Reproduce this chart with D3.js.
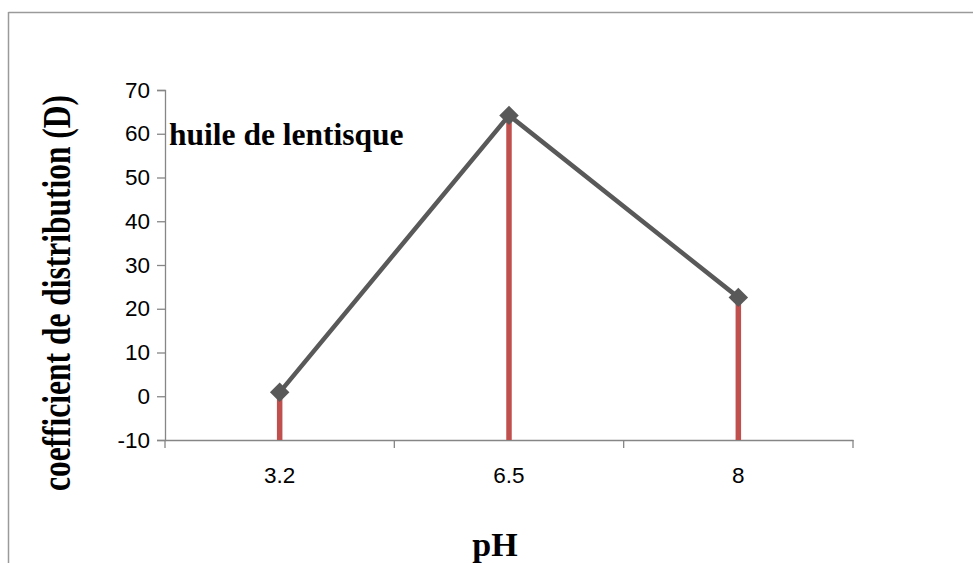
<!DOCTYPE html>
<html><head><meta charset="utf-8">
<script src="https://cdn.jsdelivr.net/npm/d3@7"></script>
<style>body{margin:0;background:#fff}svg{display:block}</style>
</head><body>
<svg id="chart" width="974" height="563"></svg>
<script>
const categories = ["3.2", "6.5", "8"];
const values = [0.9, 64.2, 22.6];
const yTicks = [-10, 0, 10, 20, 30, 40, 50, 60, 70];
const seriesLabel = "huile de lentisque";
const xTitle = "pH";
const yTitle = "coefficient de distribution (D)";

const svg = d3.select("#chart");
const W = 974, H = 563;
const m = {left: 165, right: 853, top: 90, bottom: 440};

// outer frame
svg.append("line").attr("x1", 8.5).attr("x2", 973).attr("y1", 12.5).attr("y2", 12.5)
  .attr("stroke", "#9a9a9a").attr("stroke-width", 1.5);
svg.append("line").attr("x1", 8.5).attr("x2", 8.5).attr("y1", 12).attr("y2", H)
  .attr("stroke", "#9a9a9a").attr("stroke-width", 1.5);

const x = d3.scaleBand().domain(categories).range([m.left, m.right]).paddingInner(0).paddingOuter(0);
const y = d3.scaleLinear().domain([-10, 70]).range([m.bottom, m.top]);

const axisColor = "#868686";
const tickFont = "'Liberation Sans', Arial, sans-serif";
// y axis
const yAxis = svg.append("g").attr("transform", `translate(${m.left},0)`)
  .call(d3.axisLeft(y).tickValues(yTicks).tickSize(8).tickPadding(7).tickFormat(d3.format("d")));
yAxis.select(".domain").attr("stroke", axisColor).attr("stroke-width", 1.3);
yAxis.selectAll(".tick line").attr("stroke", axisColor).attr("stroke-width", 1.3);
yAxis.selectAll(".tick text").attr("font-family", tickFont)
  .attr("font-size", 22.5).attr("fill", "#000").text(d => d < 0 ? "-" + Math.abs(d) : d);

// x axis
const xAxis = svg.append("g").attr("transform", `translate(0,${m.bottom})`)
  .call(d3.axisBottom(x).tickSize(0).tickPadding(27));
xAxis.select(".domain").attr("stroke", axisColor).attr("stroke-width", 1.3);
xAxis.selectAll(".tick text").attr("font-family", tickFont)
  .attr("font-size", 22.5).attr("fill", "#000");
// boundary ticks
const bounds = categories.map(c => x(c)).concat([x(categories[categories.length-1]) + x.bandwidth()]);
svg.append("g").selectAll("line").data(bounds).join("line")
  .attr("x1", d => d).attr("x2", d => d).attr("y1", m.bottom).attr("y2", m.bottom + 8)
  .attr("stroke", axisColor).attr("stroke-width", 1.3);

const cx = c => x(c) + x.bandwidth() / 2;

// red drop lines
svg.append("g").selectAll("line").data(categories).join("line")
  .attr("x1", c => cx(c)).attr("x2", c => cx(c))
  .attr("y1", (c, i) => y(values[i])).attr("y2", y(-10))
  .attr("stroke", "#c0504d").attr("stroke-width", 5.5);

// series line
const line = d3.line().x((d, i) => cx(categories[i])).y(d => y(d));
svg.append("path").datum(values).attr("d", line)
  .attr("fill", "none").attr("stroke", "#595959").attr("stroke-width", 4.5).attr("stroke-linejoin", "round");

// markers (diamonds)
svg.append("g").selectAll("path").data(values).join("path")
  .attr("d", d3.symbol().type(d3.symbolSquare).size(190))
  .attr("transform", (d, i) => `translate(${cx(categories[i])},${y(d)}) rotate(45)`)
  .attr("fill", "#595959");

const serif = "'Liberation Serif', 'Times New Roman', serif";
// series label
svg.append("text").attr("x", 169).attr("y", 145)
  .attr("font-family", serif).attr("font-weight", "bold")
  .attr("font-size", 31.5).attr("fill", "#000").text(seriesLabel);

// x title
svg.append("text").attr("x", 495).attr("y", 556).attr("text-anchor", "middle")
  .attr("font-family", serif).attr("font-weight", "bold")
  .attr("font-size", 34).attr("fill", "#000").text(xTitle);

// y title (slightly stretched across, as in the reference)
svg.append("text").attr("transform", "translate(70,293) scale(1.25,1) rotate(-90)").attr("text-anchor", "middle")
  .attr("font-family", serif).attr("font-weight", "bold")
  .attr("font-size", 31.5).attr("fill", "#000").text(yTitle);
</script>
</body></html>
